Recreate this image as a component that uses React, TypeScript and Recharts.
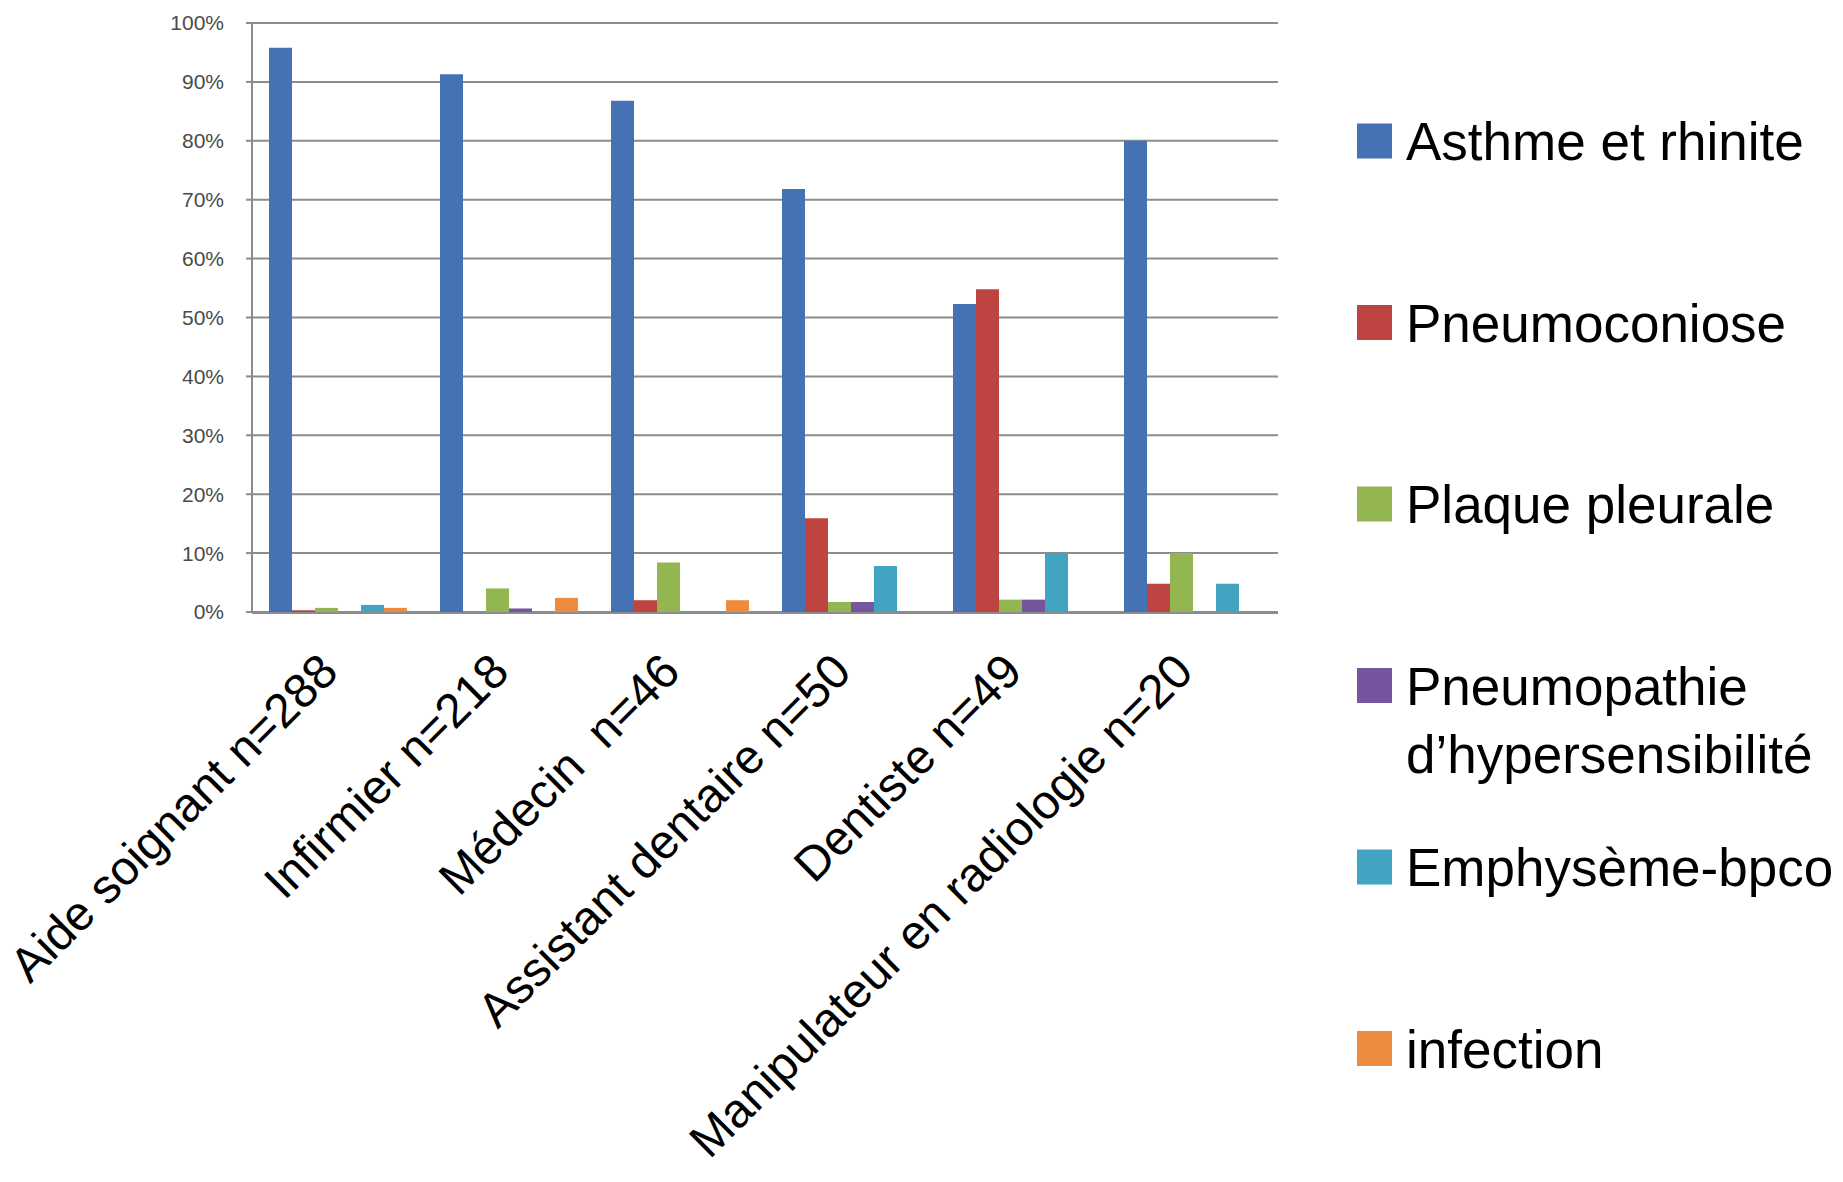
import React from "react";
import { BarChart, Bar, XAxis, YAxis, CartesianGrid, Legend } from "recharts";

const categories = [
  "Aide soignant n=288",
  "Infirmier n=218",
  "Médecin  n=46",
  "Assistant dentaire n=50",
  "Dentiste n=49",
  "Manipulateur en radiologie n=20",
];

const seriesNames = [
  "Asthme et rhinite",
  "Pneumoconiose",
  "Plaque pleurale",
  "Pneumopathie d’hypersensibilité",
  "Emphysème-bpco",
  "infection",
];

const seriesColors = ["#4472B4", "#BE4441", "#93B650", "#74559E", "#41A4C0", "#EE8B3E"];

const asthme = [95.8, 91.3, 86.8, 71.8, 52.3, 80];
const pneumoconiose = [0.3, 0, 2.0, 15.9, 54.8, 4.8];
const plaque = [0.7, 4.0, 8.4, 1.7, 2.1, 10];
const pneumopathie = [0, 0.6, 0, 1.7, 2.1, 0];
const emphyseme = [1.2, 0, 0, 7.8, 9.9, 4.8];
const infection = [0.7, 2.4, 2.0, 0, 0, 0];

const yTicks = [0, 10, 20, 30, 40, 50, 60, 70, 80, 90, 100];
const boundaryTicks = [0, 1, 2, 3, 4, 5, 6];

const seriesValues = [asthme, pneumoconiose, plaque, pneumopathie, emphyseme, infection];
const seriesKeys = ["s0", "s1", "s2", "s3", "s4", "s5"];

const data = categories.map((name, i) => {
  const row: Record<string, any> = { name };
  seriesKeys.forEach((k, j) => {
    row[k] = seriesValues[j][i];
  });
  return row;
});

const FONT = "'Liberation Sans', Arial, sans-serif";
const GRID = "#8c8c8c";

const XTick = (props: any) => {
  const { x, y, payload } = props;
  const ax = x + 3;
  const ay = y + 54;
  return (
    <text
      x={ax}
      y={ay}
      transform={`rotate(-45, ${ax}, ${ay})`}
      textAnchor="end"
      fontSize={48}
      fill="#000"
      fontFamily={FONT}
      style={{ whiteSpace: "pre" }}
    >
      {payload.value}
    </text>
  );
};

const renderLegend = () => {
  return (
    <svg width={486} height={1000} style={{ overflow: "visible" }}>
      {seriesNames.map((v, i) => {
        const cy = 41 + i * 181.5;
        let lines = [v];
        if (v.length > 20) {
          const idx = v.indexOf(" ");
          lines = [v.slice(0, idx), v.slice(idx + 1)];
        }
        return (
          <g key={v}>
            <rect x={0} y={cy - 17.5} width={35} height={35} fill={seriesColors[i]} />
            {lines.map((ln, j) => (
              <text key={j} x={49} y={cy + 19 + j * 68.5} fontSize={53} fill="#000" fontFamily={FONT}>
                {ln}
              </text>
            ))}
          </g>
        );
      })}
    </svg>
  );
};

export default function App() {
  return (
    <div style={{ width: 1843, height: 1182, overflow: "hidden", background: "#fff" }}>
      <style>{"body{margin:0;overflow:hidden;background:#fff}"}</style>
      <BarChart
        width={1843}
        height={1182}
        data={data}
        margin={{ top: 23, right: 565, bottom: 568, left: 192 }}
        barCategoryGap={17}
        barGap={0}
        style={{ fontFamily: FONT }}
      >
        <CartesianGrid horizontal vertical={false} stroke={GRID} strokeWidth={2} xAxisId="cat" />
        <XAxis
          xAxisId="cat"
          dataKey="name"
          height={1}
          axisLine={false}
          tickLine={false}
          interval={0}
          tick={<XTick />}
          tickMargin={2}
        />
        <XAxis
          xAxisId="grid"
          type="number"
          domain={[0, 6]}
          ticks={boundaryTicks}
          allowDataOverflow
          height={1}
          tick={false}
          tickSize={14}
          axisLine={{ stroke: GRID, strokeWidth: 2 }}
          tickLine={{ stroke: GRID, strokeWidth: 2 }}
        />
        <YAxis
          domain={[0, 100]}
          ticks={yTicks}
          width={60}
          tickSize={6}
          tickMargin={22}
          interval={0}
          tickFormatter={(v: number) => `${v}%`}
          tick={{ fontSize: 21, fill: "#4a4a4a", fontFamily: FONT }}
          axisLine={{ stroke: GRID, strokeWidth: 2 }}
          tickLine={{ stroke: GRID, strokeWidth: 2 }}
        />
        {seriesKeys.map((k, j) => (
          <Bar
            key={k}
            xAxisId="cat"
            dataKey={k}
            name={seriesNames[j]}
            fill={seriesColors[j]}
            isAnimationActive={false}
          />
        ))}
        <Legend
          layout="vertical"
          align="center"
          verticalAlign="middle"
          wrapperStyle={{ position: "absolute", left: 1357, top: 100, width: 486, height: 1000 }}
          content={renderLegend}
        />
      </BarChart>
    </div>
  );
}
